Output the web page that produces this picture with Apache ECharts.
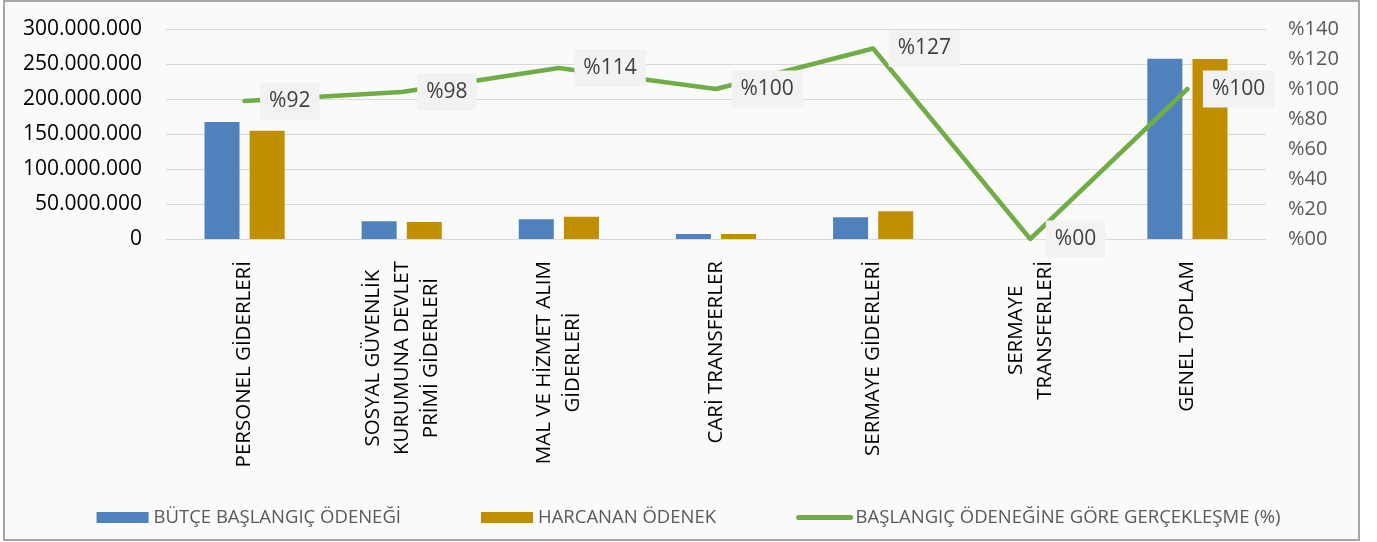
<!DOCTYPE html>
<html>
<head>
<meta charset="utf-8">
<script src="https://cdn.jsdelivr.net/npm/echarts@6/dist/echarts.min.js"></script>
<style>
  html, body { margin: 0; padding: 0; background: #ffffff; }
  #frame { position: absolute; left: 3px; top: 0px; width: 1353px; height: 537px; border: 2px solid #a6a6a6; background: #fafafa; }
  #chart { position: absolute; left: 0; top: 0; width: 1377px; height: 542px; }
</style>
</head>
<body>
<div id="frame"></div>
<div id="chart"></div>
<script>
const categories = [
  'PERSONEL GİDERLERİ',
  'SOSYAL GÜVENLİK\nKURUMUNA DEVLET\nPRİMİ GİDERLERİ',
  'MAL VE HİZMET ALIM\nGİDERLERİ',
  'CARİ TRANSFERLER',
  'SERMAYE GİDERLERİ',
  'SERMAYE\nTRANSFERLERİ',
  'GENEL TOPLAM'
];
const butceBaslangic = [167100000, 25200000, 28100000, 7100000, 31000000, 0, 257600000];
const harcanan = [154700000, 24400000, 31900000, 7000000, 39500000, 0, 257000000];
const gerceklesme = [92, 98, 114, 100, 127, 0, 100];
const seriesNames = ['BÜTÇE BAŞLANGIÇ ÖDENEĞİ', 'HARCANAN ÖDENEK', 'BAŞLANGIÇ ÖDENEĞİNE GÖRE GERÇEKLEŞME (%)'];

const FONT = 'Open Sans';
function dotted(v) { return String(v).replace(/\B(?=(\d{3})+(?!\d))/g, '.'); }
function pct(v) { return '%' + (v < 10 ? '0' + v : v); }

const chart = echarts.init(document.getElementById('chart'), null, { renderer: 'canvas' });
chart.setOption({
  backgroundColor: 'transparent',
  animation: false,
  grid: { left: 166, right: 111, top: 29, bottom: 303, containLabel: false, outerBoundsMode: 'none' },
  legend: {
    left: 'center',
    top: 503,
    itemWidth: 52,
    itemHeight: 11,
    itemGap: 80,
    textStyle: { fontFamily: FONT, fontSize: 18.5, color: '#595959' },
    data: [
      { name: seriesNames[0], icon: 'rect' },
      { name: seriesNames[1], icon: 'rect' },
      { name: seriesNames[2], itemStyle: { opacity: 0 }, lineStyle: { width: 5, cap: 'round', color: '#70ad47' } }
    ]
  },
  xAxis: {
    type: 'category',
    data: categories,
    axisTick: { show: false },
    axisLine: { show: true, lineStyle: { color: '#d9d9d9', width: 1 } },
    axisLabel: {
      interval: 0,
      rotate: 90,
      margin: 22,
      color: '#000000',
      fontFamily: FONT,
      fontSize: 20,
      lineHeight: 29,
      formatter: function (v) { return v.split('\n').map(function (s) { return '{c|' + s + '}'; }).join('\n'); },
      rich: { c: { align: 'center', fontFamily: FONT, fontSize: 20.5, lineHeight: 29, color: '#000000' } }
    }
  },
  yAxis: [
    {
      type: 'value', min: 0, max: 300000000, interval: 50000000,
      axisLine: { show: false }, axisTick: { show: false },
      splitLine: { lineStyle: { color: '#d9d9d9', width: 1 } },
      axisLabel: { margin: 24, color: '#000000', fontFamily: FONT, fontSize: 21, formatter: dotted }
    },
    {
      type: 'value', min: 0, max: 140, interval: 20,
      axisLine: { show: false }, axisTick: { show: false },
      splitLine: { show: false },
      axisLabel: { margin: 22, color: '#595959', fontFamily: FONT, fontSize: 20, formatter: pct }
    }
  ],
  series: [
    {
      name: seriesNames[0], type: 'bar', data: butceBaslangic,
      barWidth: 35, barGap: '29%',
      itemStyle: { color: '#4f81bd' }
    },
    {
      name: seriesNames[1], type: 'bar', data: harcanan,
      barWidth: 35, barGap: '29%',
      itemStyle: { color: '#bf8f00' }
    },
    {
      name: seriesNames[2], type: 'line', yAxisIndex: 1, data: gerceklesme,
      symbol: 'circle', symbolSize: 1,
      itemStyle: { color: '#70ad47' },
      lineStyle: { color: '#70ad47', width: 4.5, cap: 'round', join: 'round' },
      z: 5,
      label: {
        show: true, position: 'right', distance: 15,
        formatter: function (p) { return pct(p.value); },
        fontFamily: FONT, fontSize: 21, lineHeight: 23, color: '#404040',
        backgroundColor: '#f2f2f2', padding: [7, 9, 7, 9]
      }
    }
  ]
});
</script>
</body>
</html>
